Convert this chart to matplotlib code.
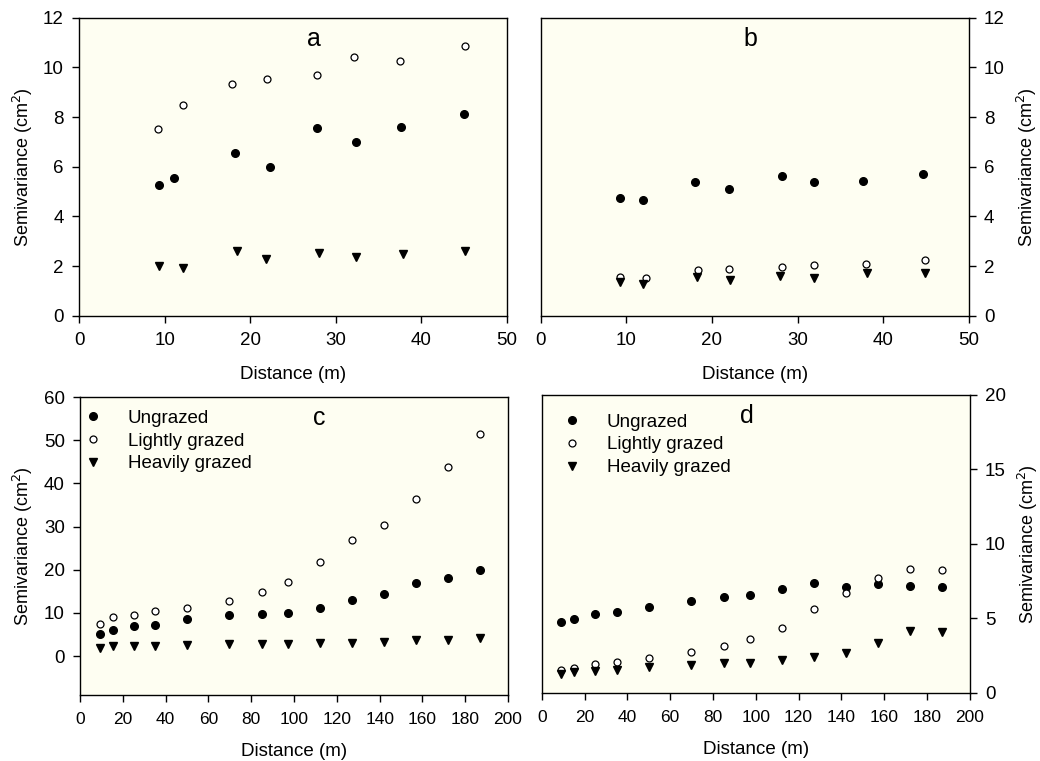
import numpy as np
import matplotlib.pyplot as plt

plt.rcParams['font.family'] = ['Liberation Sans', 'DejaVu Sans']

# panel a / b distances and semivariances
dist_a_ung = [9.4, 11.1, 18.2, 22.3, 27.8, 32.3, 37.6, 45.0]
semi_a_ung = [5.27, 5.55, 6.54, 5.99, 7.57, 6.98, 7.59, 8.11]
dist_a_light = [9.2, 12.1, 17.9, 22.0, 27.8, 32.1, 37.5, 45.1]
semi_a_light = [7.51, 8.49, 9.32, 9.52, 9.68, 10.43, 10.27, 10.87]
dist_a_heavy = [9.4, 12.2, 18.5, 21.9, 28.0, 32.3, 37.9, 45.1]
semi_a_heavy = [2.01, 1.93, 2.63, 2.29, 2.53, 2.35, 2.48, 2.59]

dist_b_ung = [9.3, 11.9, 18.0, 22.0, 28.2, 31.9, 37.7, 44.6]
semi_b_ung = [4.76, 4.68, 5.40, 5.12, 5.63, 5.39, 5.43, 5.71]
dist_b_light = [9.2, 12.3, 18.4, 22.0, 28.2, 31.9, 38.0, 44.9]
semi_b_light = [1.57, 1.53, 1.84, 1.90, 1.97, 2.05, 2.08, 2.24]
dist_b_heavy = [9.3, 11.9, 18.2, 22.1, 27.9, 31.9, 38.1, 44.9]
semi_b_heavy = [1.35, 1.27, 1.55, 1.45, 1.62, 1.53, 1.74, 1.72]

# panel c / d
dist_cd = [9.1, 15.2, 25.0, 34.9, 50.0, 69.8, 84.9, 97.2, 112.2, 127.1, 142.0, 156.9, 172.0, 187.0]
semi_c_ung = [5.24, 6.17, 6.94, 7.32, 8.56, 9.48, 9.79, 10.1, 11.1, 13.0, 14.3, 16.9, 18.0, 20.0]
semi_c_light = [7.48, 9.02, 9.64, 10.4, 11.2, 12.8, 14.9, 17.2, 21.8, 27.0, 30.4, 36.5, 43.9, 51.4]
semi_c_heavy = [1.93, 2.24, 2.39, 2.39, 2.54, 2.70, 2.78, 2.78, 3.08, 3.16, 3.30, 3.70, 3.85, 4.30]
semi_d_ung = [4.75, 4.99, 5.31, 5.42, 5.76, 6.18, 6.45, 6.56, 6.97, 7.35, 7.12, 7.32, 7.17, 7.08]
semi_d_light = [1.55, 1.68, 1.93, 2.08, 2.35, 2.78, 3.18, 3.61, 4.39, 5.64, 6.72, 7.73, 8.31, 8.22]
semi_d_heavy = [1.30, 1.39, 1.50, 1.57, 1.72, 1.90, 1.99, 2.04, 2.24, 2.40, 2.71, 3.38, 4.14, 4.08]

labels = ['Ungrazed', 'Lightly grazed', 'Heavily grazed']

bg = '#fefef2'
fig = plt.figure(figsize=(10.4, 7.61), dpi=100)
ax_a = fig.add_axes([0.076, 0.585, 0.4115, 0.3916])
ax_b = fig.add_axes([0.520, 0.585, 0.4115, 0.3916])
ax_c = fig.add_axes([0.077, 0.0867, 0.4115, 0.3916])
ax_d = fig.add_axes([0.521, 0.0894, 0.4115, 0.3916])


def draw(ax, xs, ys):
    ax.plot(xs[0], ys[0], 'o', color='black', ms=5.5, ls='none', label=labels[0])
    ax.plot(xs[1], ys[1], 'o', mfc='white', mec='black', mew=0.9, ms=5, ls='none', label=labels[1])
    ax.plot(xs[2], ys[2], 'v', color='black', ms=6, ls='none', label=labels[2])


draw(ax_a, [dist_a_ung, dist_a_light, dist_a_heavy], [semi_a_ung, semi_a_light, semi_a_heavy])
draw(ax_b, [dist_b_ung, dist_b_light, dist_b_heavy], [semi_b_ung, semi_b_light, semi_b_heavy])
draw(ax_c, [dist_cd] * 3, [semi_c_ung, semi_c_light, semi_c_heavy])
draw(ax_d, [dist_cd] * 3, [semi_d_ung, semi_d_light, semi_d_heavy])

for ax in (ax_a, ax_b):
    ax.set_xlim(0, 50)
    ax.set_ylim(0, 12)
    ax.set_xticks(np.arange(0, 51, 10))
    ax.set_yticks(np.arange(0, 13, 2))
ax_c.set_xlim(0, 200)
ax_c.set_ylim(-9, 60)
ax_c.set_xticks(np.arange(0, 201, 20))
ax_c.set_yticks(np.arange(0, 61, 10))
ax_d.set_xlim(0, 200)
ax_d.set_ylim(0, 20)
ax_d.set_xticks(np.arange(0, 201, 20))
ax_d.set_yticks(np.arange(0, 21, 5))

for ax in (ax_b, ax_d):
    ax.yaxis.tick_right()
    ax.yaxis.set_label_position('right')

for ax, letter, lx in ((ax_a, 'a', 0.55), (ax_b, 'b', 0.49), (ax_c, 'c', 0.56), (ax_d, 'd', 0.48)):
    ax.set_facecolor(bg)
    ax.tick_params(direction='out', length=5, width=1, labelsize=13.5)
    ax.tick_params(axis='x', pad=7)
    ax.tick_params(axis='y', pad=6)
    ax.set_xlabel('Distance (m)', fontsize=13.5, labelpad=12)
    ax.set_ylabel('Semivariance (cm$^2$)', fontsize=13, labelpad=6)
    ax.text(lx, 0.93, letter, transform=ax.transAxes, fontsize=18, ha='center', va='center')
    for s in ax.spines.values():
        s.set_linewidth(1)

for ax in (ax_c, ax_d):
    ax.tick_params(axis='x', labelsize=12.5)
ax_b.yaxis.labelpad = 7
ax_d.yaxis.labelpad = 7

leg_kw = dict(loc='upper left', frameon=False, fontsize=13.5, handletextpad=1.35,
              labelspacing=0.3, borderaxespad=0.1, borderpad=0.1, handlelength=1.0)
ax_c.legend(bbox_to_anchor=(0.0, 0.97), **leg_kw)
ax_d.legend(bbox_to_anchor=(0.04, 0.95), **leg_kw)

fig.savefig('out.png', dpi=100)
